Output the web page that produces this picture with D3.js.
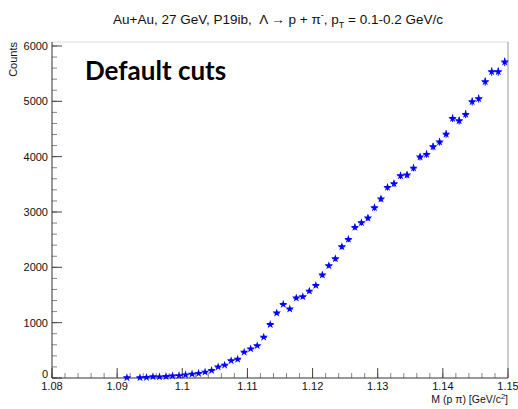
<!DOCTYPE html>
<html>
<head>
<meta charset="utf-8">
<script src="https://cdn.jsdelivr.net/npm/d3@7"></script>
<style>
  body { margin: 0; background: #fff; }
  svg { display: block; font-family: "Liberation Sans", Arial, sans-serif; }
</style>
</head>
<body>
<svg id="chart" width="518" height="409"></svg>
<script>
// ---- data ----
const binCenters = [1.0915,1.0925,1.0935,1.0945,1.0955,1.0965,1.0975,1.0985,1.0995,
  1.1005,1.1015,1.1025,1.1035,1.1045,1.1055,1.1065,1.1075,1.1085,1.1095,
  1.1105,1.1115,1.1125,1.1135,1.1145,1.1155,1.1165,1.1175,1.1185,1.1195,
  1.1205,1.1215,1.1225,1.1235,1.1245,1.1255,1.1265,1.1275,1.1285,1.1295,
  1.1305,1.1315,1.1325,1.1335,1.1345,1.1355,1.1365,1.1375,1.1385,1.1395,
  1.1405,1.1415,1.1425,1.1435,1.1445,1.1455,1.1465,1.1475,1.1485,1.1495];
const counts = [8,null,8,12,25,22,28,38,45,
  58,72,85,108,139,200,232,314,340,468,
  528,584,738,968,1175,1332,1248,1446,1470,1572,
  1675,1862,2030,2156,2373,2507,2724,2807,2892,3078,
  3238,3447,3512,3656,3669,3795,3994,4043,4180,4265,
  4408,4693,4650,4766,4994,5048,5355,5536,5536,5711];
const binWidth = 0.001;
const xTicks = [1.08,1.09,1.10,1.11,1.12,1.13,1.14,1.15];
const xTickLabels = ["1.08","1.09","1.1","1.11","1.12","1.13","1.14","1.15"];
const yTicks = [0,1000,2000,3000,4000,5000,6000];
const yTickLabels = ["0","1000","2000","3000","4000","5000","6000"];

// ---- layout ----
const svg = d3.select("#chart");
const L = 52, R = 508, T = 42, B = 378;
const x = d3.scaleLinear().domain([1.08, 1.15]).range([L, R]);
const y = d3.scaleLinear().domain([0, 6072]).range([B, T]);

// frame
svg.append("line").attr("x1", L).attr("x2", R).attr("y1", T).attr("y2", T).attr("stroke", "#dcdcdc");
svg.append("line").attr("x1", R).attr("x2", R).attr("y1", T).attr("y2", B).attr("stroke", "#999");

// x ticks (inside, upward)
const xMinor = d3.range(1.08, 1.1501, 0.002);
svg.append("g").selectAll("line").data(xMinor).join("line")
  .attr("x1", d => x(d)).attr("x2", d => x(d))
  .attr("y1", B).attr("y2", B - 5).attr("stroke", "#888");
svg.append("g").selectAll("line").data(xTicks).join("line")
  .attr("x1", d => x(d)).attr("x2", d => x(d))
  .attr("y1", B).attr("y2", B - 10).attr("stroke", "#444");
svg.append("g").selectAll("text").data(xTicks).join("text")
  .attr("x", d => x(d)).attr("y", 389.5)
  .attr("text-anchor", "middle").attr("font-size", 11).attr("fill", "#111")
  .text((d, i) => xTickLabels[i]);

// y ticks (inside, rightward)
const yMinor = d3.range(0, 6001, 200);
svg.append("g").selectAll("line").data(yMinor).join("line")
  .attr("x1", L).attr("x2", L + 5)
  .attr("y1", d => y(d)).attr("y2", d => y(d)).attr("stroke", "#888");
svg.append("g").selectAll("line").data(yTicks).join("line")
  .attr("x1", L).attr("x2", L + 10)
  .attr("y1", d => y(d)).attr("y2", d => y(d)).attr("stroke", "#444");
svg.append("g").selectAll("text").data(yTicks).join("text")
  .attr("x", 48).attr("y", d => y(d) + (d === 0 ? 0 : 4))
  .attr("text-anchor", "end").attr("font-size", 11).attr("fill", "#111")
  .text((d, i) => yTickLabels[i]);

// axis lines
svg.append("line").attr("x1", L).attr("x2", R).attr("y1", B).attr("y2", B).attr("stroke", "#333");
svg.append("line").attr("x1", L).attr("x2", L).attr("y1", T).attr("y2", B).attr("stroke", "#333");

// axis titles
const xt = svg.append("text").attr("x", R).attr("y", 402.5)
  .attr("text-anchor", "end").attr("font-size", 10.5).attr("fill", "#111");
xt.append("tspan").text("M (p \u03c0) [GeV/c");
xt.append("tspan").attr("font-size", 7.5).attr("dy", -4).text("2");
xt.append("tspan").attr("dy", 4).text("]");

svg.append("text").attr("transform", `translate(17,${T}) rotate(-90)`)
  .attr("text-anchor", "end").attr("font-size", 11).attr("fill", "#111").text("Counts");

// title
const tt = svg.append("text").attr("x", 278).attr("y", 24)
  .attr("text-anchor", "middle").attr("font-size", 13.5).attr("fill", "#111");
tt.append("tspan").text("Au+Au, 27 GeV, P19ib,\u00a0\u00a0\u039b \u2192 p + \u03c0");
tt.append("tspan").attr("font-size", 9).attr("dy", -6).text("-");
tt.append("tspan").attr("dy", 6).text(", p");
tt.append("tspan").attr("font-size", 9).attr("dy", 4).text("T");
tt.append("tspan").attr("dy", -4).text(" = 0.1-0.2 GeV/c");

// label
svg.append("text").attr("x", 85).attr("y", 80)
  .style("font-family", "Lato, 'Open Sans', sans-serif").style("font-weight", "bold")
  .style("font-size", "26px").attr("fill", "#000").text("Default cuts");

// data points
const pts = binCenters.map((c, i) => ({ c, v: counts[i] })).filter(d => d.v !== null);
const g = svg.append("g");
g.selectAll("line.ey").data(pts).join("line")
  .attr("x1", d => x(d.c)).attr("x2", d => x(d.c))
  .attr("y1", d => y(d.v + Math.sqrt(d.v))).attr("y2", d => y(Math.max(0, d.v - Math.sqrt(d.v))))
  .attr("stroke", "#0000ff").attr("stroke-width", 1);
g.selectAll("line.ex").data(pts).join("line")
  .attr("x1", d => x(d.c - binWidth / 2)).attr("x2", d => x(d.c + binWidth / 2))
  .attr("y1", d => y(d.v)).attr("y2", d => y(d.v))
  .attr("stroke", "#0000ff").attr("stroke-width", 1);
const star = d3.symbol().type(d3.symbolStar).size(22);
g.selectAll("path").data(pts).join("path")
  .attr("transform", d => `translate(${x(d.c)},${y(d.v)})`)
  .attr("d", star).attr("fill", "#0000ff");
</script>
</body>
</html>
